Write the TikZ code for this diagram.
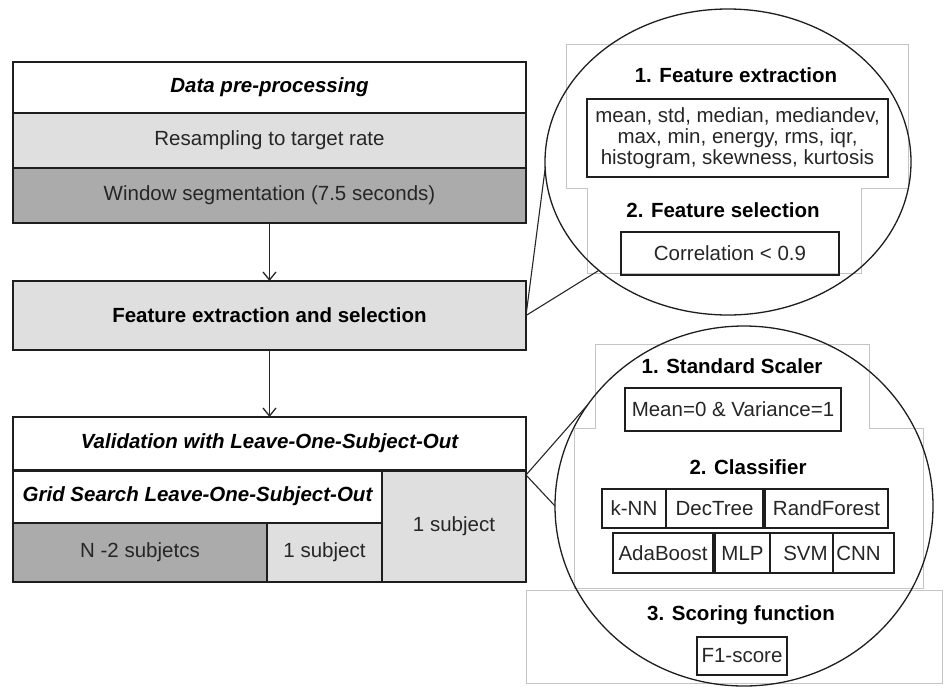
\documentclass[tikz,border=0pt]{standalone}
\usepackage{fontspec}
\setmainfont{Liberation Sans}
\usetikzlibrary{shapes.geometric,arrows.meta}

\definecolor{lightfill}{HTML}{DFDFDF}
\definecolor{darkfill}{HTML}{ABABAB}
\definecolor{edge}{HTML}{1E1E1E}
\definecolor{frame}{HTML}{C4C4C4}
\definecolor{ink}{HTML}{262626}

\tikzset{
  txt/.style={font=\fontsize{20.5pt}{21pt}\selectfont, text=ink, inner sep=0pt, outer sep=0pt},
  cell/.style={txt, draw=edge, line width=1.4pt, rectangle, align=center},
  head/.style={txt, font=\fontsize{20.5pt}{21pt}\selectfont\bfseries, text=black},
  headit/.style={cell, font=\fontsize{20.5pt}{21pt}\selectfont\bfseries\itshape, text=black},
  zoombubble/.style={ellipse, draw=edge, line width=1.3pt, inner sep=0pt, outer sep=0pt},
  grayframe/.style={draw=frame, line width=0.9pt},
  link/.style={draw=ink, line width=1.1pt},
  arr/.style={draw=ink, line width=1.4pt, -{Straight Barb[length=8pt,width=13pt,line width=1.3pt]}},
}

\begin{document}
\begin{tikzpicture}[x=1pt,y=-1pt]
\useasboundingbox (0,0) rectangle (944,686);

% ---------- left column: processing pipeline ----------
\node[headit, minimum width=513pt, minimum height=51pt] (pre) at (269.5,87.5) {Data pre-processing};
\node[cell, fill=lightfill, minimum width=513pt, minimum height=55pt] (resamp) at (269.5,140.5) {Resampling to target rate};
\node[cell, fill=darkfill, minimum width=513pt, minimum height=55pt] (window) at (269.5,195.5) {Window segmentation (7.5 seconds)};

\node[cell, fill=lightfill, font=\fontsize{20.5pt}{21pt}\selectfont\bfseries, text=black,
      minimum width=513pt, minimum height=69pt] (feat) at (269.5,315.5) {Feature extraction and selection};

\node[headit, minimum width=513pt, minimum height=53pt] (val) at (269.5,443.5) {Validation with Leave-One-Subject-Out};
\node[headit, minimum width=369pt, minimum height=53pt] (grid) at (197.5,496.5) {Grid Search Leave-One-Subject-Out};
\node[cell, fill=darkfill, minimum width=254pt, minimum height=59pt] (ntrain) at (140,552.5) {N -2 subjetcs};
\node[cell, fill=lightfill, minimum width=115pt, minimum height=59pt] (nval) at (324.5,552.5) {1 subject};
\node[cell, fill=lightfill, minimum width=144pt, minimum height=112pt] (ntest) at (454,526) {1 subject};
\draw[edge, line width=3pt] (val.south west) -- (val.south east);

\draw[arr] (window.south) -- (feat.north);
\draw[arr] (feat.south) -- (val.north);

% ---------- upper detail bubble: features ----------
\draw[grayframe] (566,44) -- (908,44) -- (908,188) -- (861,188) -- (861,273)
  -- (587,273) -- (587,188) -- (566,188) -- cycle;
\node[zoombubble, minimum width=366pt, minimum height=306pt] (bubA) at (728,162) {};
\draw[link] (feat.east) -- (bubA.182.5);
\draw[link] (feat.east) -- (bubA.220);

\node[head] (fe) at (736,75) {1. Feature extraction};
\node[cell, minimum width=301pt, minimum height=78pt] (feats) at (737.5,138)
  {mean, std, median, mediandev,\\ max, min, energy, rms, iqr,\\ histogram, skewness, kurtosis};
\node[head] (fs) at (723,210) {2. Feature selection};
\node[cell, minimum width=218pt, minimum height=43pt] (corr) at (730,253.5) {Correlation < 0.9};

% ---------- lower detail bubble: model selection ----------
\draw[grayframe] (595,344) -- (869,344) -- (869,428) -- (923,428) -- (923,588)
  -- (574,588) -- (574,428) -- (595,428) -- cycle;
\draw[grayframe] (526,590) rectangle (942,683);
\node[zoombubble, minimum width=378pt, minimum height=360pt] (bubB) at (744,506) {};
\coordinate (valjoin) at (526,475);
\draw[link] (valjoin) -- (bubB.147);
\draw[link] (valjoin) -- (bubB.west);

\node[head] (ss) at (732,366) {1. Standard Scaler};
\node[cell, minimum width=216pt, minimum height=43pt] (scale) at (733,409.5) {Mean=0 \& Variance=1};

\node[head] (cl) at (748,467) {2. Classifier};
\node[cell, minimum width=64pt, minimum height=39pt] (knn) at (634,508.5) {k-NN};
\node[cell, minimum width=97pt, minimum height=39pt] (dt) at (714.5,508.5) {DecTree};
\node[cell, minimum width=123pt, minimum height=39pt] (rf) at (826.5,508.5) {RandForest};
\node[cell, minimum width=100pt, minimum height=40pt] (ada) at (663,553) {AdaBoost};
\node[cell, minimum width=55pt, minimum height=40pt] (mlp) at (742.5,553) {MLP};
\node[cell, minimum width=63pt, minimum height=40pt] (svm) at (801.5,553) {\hspace*{8pt}SVM};
\node[cell, minimum width=61pt, minimum height=40pt] (cnn) at (863.5,553) {CNN\hspace*{10pt}};

\node[head] (sf) at (741,615) {3. Scoring function};
\node[cell, minimum width=90pt, minimum height=38pt] (f1) at (742,656) {F1-score};
\end{tikzpicture}
\end{document}
